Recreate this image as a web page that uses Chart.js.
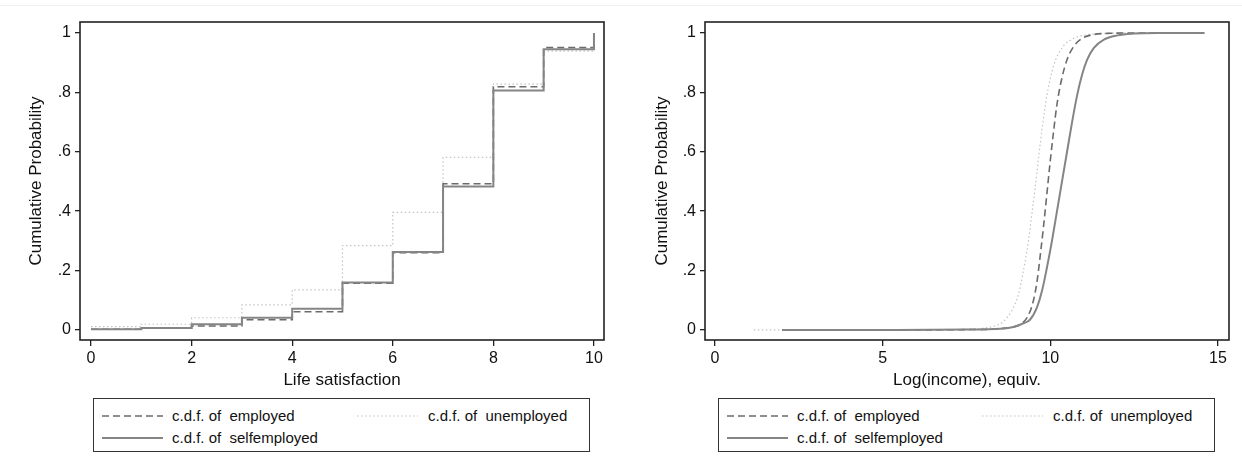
<!DOCTYPE html>
<html lang="en">
<head>
<meta charset="UTF-8">
<title>Cumulative distributions by employment status</title>
<script src="https://cdn.jsdelivr.net/npm/chart.js"></script>
<style>
    body {
        margin: 0;
        background: #fff;
        font-family: "Liberation Sans", Arial, sans-serif;
    }
    .page {
        position: relative;
        width: 1242px;
        height: 471px;
        overflow: hidden;
    }
    .topline {
        position: absolute;
        left: 0;
        top: 5px;
        width: 1242px;
        border-top: 1px solid #efefef;
    }
    .panel {
        position: absolute;
        top: 0;
        width: 621px;
        height: 395px;
    }
    .legend {
        position: absolute;
        top: 398px;
        width: 497px;
        height: 54px;
        border: 1px solid #333;
        box-sizing: border-box;
        font-size: 15px;
        color: #111;
    }
    .item {
        position: absolute;
        white-space: pre;
        line-height: 18px;
    }
    .sample {
        position: absolute;
    }
</style>
</head>
<body>
<div class="page">
    <div class="topline"></div>
    <canvas id="life" class="panel" width="621" height="395" style="left:0"></canvas>
    <canvas id="income" class="panel" width="621" height="395" style="left:621px"></canvas>
    <div id="legendLife" class="legend" style="left:93px"></div>
    <div id="legendIncome" class="legend" style="left:718px"></div>
</div>

<script>
    // Life satisfaction (0-10), step c.d.f.
    const lifeX = [0, 1, 2, 3, 4, 5, 6, 7, 8, 9, 10];
    const lifeEmployed     = [0.002, 0.006, 0.013, 0.034, 0.061, 0.157, 0.260, 0.492, 0.819, 0.951, 1];
    const lifeUnemployed   = [0.011, 0.019, 0.041, 0.084, 0.135, 0.284, 0.396, 0.581, 0.828, 0.939, 1];
    const lifeSelfemployed = [0.002, 0.006, 0.019, 0.041, 0.071, 0.160, 0.262, 0.483, 0.806, 0.945, 1];

    // Log(income), equiv. - smooth c.d.f.
    const incEmployedX = [2.0, 5.0, 7.5, 8.5, 8.9, 9.15, 9.35, 9.5, 9.6, 9.7, 9.8, 9.9, 10.0, 10.1, 10.2, 10.35, 10.5, 10.7, 10.95, 11.3, 11.8, 12.5, 14.6];
    const incEmployedY = [0, 0, 0.001, 0.004, 0.010, 0.022, 0.050, 0.100, 0.160, 0.250, 0.350, 0.460, 0.570, 0.670, 0.760, 0.850, 0.910, 0.955, 0.982, 0.995, 0.999, 1, 1];

    const incUnemployedX = [1.16, 3.0, 5.0, 7.0, 7.8, 8.3, 8.6, 8.85, 9.05, 9.2, 9.35, 9.45, 9.55, 9.65, 9.77, 9.9, 10.1, 10.35, 10.7, 11.1, 11.7, 12.5, 14.6];
    const incUnemployedY = [0, 0, 0, 0.001, 0.004, 0.012, 0.028, 0.065, 0.120, 0.200, 0.300, 0.390, 0.480, 0.580, 0.690, 0.790, 0.890, 0.950, 0.982, 0.994, 0.999, 1, 1];

    const incSelfemployedX = [2.0, 5.0, 7.5, 8.5, 8.9, 9.15, 9.4, 9.6, 9.75, 9.9, 10.05, 10.2, 10.35, 10.5, 10.65, 10.8, 10.95, 11.1, 11.3, 11.6, 12.0, 12.5, 13.2, 14.6];
    const incSelfemployedY = [0, 0, 0.001, 0.004, 0.010, 0.020, 0.035, 0.075, 0.130, 0.210, 0.300, 0.400, 0.500, 0.600, 0.700, 0.790, 0.860, 0.910, 0.950, 0.978, 0.992, 0.998, 1, 1];

    const yTicks = [0, 0.2, 0.4, 0.6, 0.8, 1];
    const yTickLabels = ['0', '.2', '.4', '.6', '.8', '1'];
    const lifeTicks = [0, 2, 4, 6, 8, 10];
    const incomeTicks = [0, 5, 10, 15];

    const seriesNames = ['employed', 'unemployed', 'selfemployed'];
    const styles = {
        employed:     {color: '#6b6b6b', width: 1.6, dash: [7, 4]},
        unemployed:   {color: '#c2c2c2', width: 1.2, dash: [1.5, 2.5]},
        selfemployed: {color: '#858585', width: 2, dash: []}
    };

    Chart.defaults.font.family = '"Liberation Sans", Arial, sans-serif';

    const toPoints = (xs, ys) => xs.map((x, i) => ({x: x, y: ys[i]}));

    // box round the plot region, Stata style
    const framePlugin = {
        id: 'frame',
        afterDraw(chart) {
            const a = chart.chartArea;
            const ctx = chart.ctx;
            ctx.save();
            ctx.strokeStyle = '#222';
            ctx.lineWidth = 1.6;
            ctx.strokeRect(a.left, a.top, a.right - a.left, a.bottom - a.top);
            ctx.restore();
        }
    };

    function makeDataset(name, points, extra) {
        const s = styles[name];
        return Object.assign({
            label: 'c.d.f. of  ' + name,
            data: points,
            borderColor: s.color,
            borderWidth: s.width,
            borderDash: s.dash,
            pointRadius: 0,
            fill: false
        }, extra);
    }

    function makeChart(id, datasets, cfg) {
        new Chart(document.getElementById(id), {
            type: 'line',
            data: {datasets: datasets},
            options: {
                responsive: false,
                animation: false,
                layout: {padding: {left: 0, top: 22, right: cfg.padRight, bottom: 0}},
                plugins: {legend: {display: false}, tooltip: {enabled: false}},
                scales: {
                    x: {
                        type: 'linear',
                        min: cfg.xMin,
                        max: cfg.xMax,
                        afterBuildTicks: s => { s.ticks = cfg.xTicks.map(v => ({value: v})); },
                        afterFit: s => { s.height = 55; },
                        grid: {drawOnChartArea: false, drawTicks: true, tickLength: 6, color: '#222', lineWidth: 1.3},
                        border: {display: false},
                        ticks: {font: {size: 16}, color: '#111', padding: 3, maxRotation: 0, autoSkip: false,
                                callback: v => String(v)},
                        title: {display: true, text: cfg.xTitle, font: {size: 17}, color: '#111',
                                padding: {top: 0, bottom: 4}}
                    },
                    y: {
                        min: -0.034,
                        max: 1.037,
                        afterBuildTicks: s => { s.ticks = yTicks.map(v => ({value: v})); },
                        afterFit: s => { s.width = cfg.yWidth; },
                        grid: {drawOnChartArea: false, drawTicks: true, tickLength: 5, color: '#222', lineWidth: 1.3},
                        border: {display: false},
                        ticks: {font: {size: 16}, color: '#111', padding: 4, autoSkip: false,
                                callback: v => yTickLabels[yTicks.indexOf(v)]},
                        title: {display: true, text: 'Cumulative Probability', font: {size: 17}, color: '#111',
                                padding: {top: cfg.yTitlePad, bottom: 0}}
                    }
                }
            },
            plugins: [framePlugin]
        });
    }

    // selfemployed first so it is drawn on top
    makeChart('life', [
        makeDataset('selfemployed', toPoints(lifeX, lifeSelfemployed), {stepped: true}),
        makeDataset('employed', toPoints(lifeX, lifeEmployed), {stepped: true}),
        makeDataset('unemployed', toPoints(lifeX, lifeUnemployed), {stepped: true})
    ], {xMin: -0.219, xMax: 10.2, xTicks: lifeTicks, xTitle: 'Life satisfaction',
        yWidth: 80, yTitlePad: 26, padRight: 17});

    makeChart('income', [
        makeDataset('selfemployed', toPoints(incSelfemployedX, incSelfemployedY), {cubicInterpolationMode: 'monotone'}),
        makeDataset('employed', toPoints(incEmployedX, incEmployedY), {cubicInterpolationMode: 'monotone'}),
        makeDataset('unemployed', toPoints(incUnemployedX, incUnemployedY), {cubicInterpolationMode: 'monotone'})
    ], {xMin: -0.298, xMax: 15.33, xTicks: incomeTicks, xTitle: 'Log(income), equiv.',
        yWidth: 84, yTitlePad: 31, padRight: 13});

    // legend boxes: two columns, selfemployed on second row
    const legendSlots = {
        employed:     {sample: 8, label: 78, top: 8},
        unemployed:   {sample: 263, label: 334, top: 8},
        selfemployed: {sample: 8, label: 78, top: 30}
    };

    function buildLegend(id) {
        const box = document.getElementById(id);
        seriesNames.forEach(name => {
            const slot = legendSlots[name];
            const s = styles[name];
            const svgNS = 'http://www.w3.org/2000/svg';
            const svg = document.createElementNS(svgNS, 'svg');
            svg.setAttribute('class', 'sample');
            svg.setAttribute('width', '61');
            svg.setAttribute('height', '6');
            svg.style.left = slot.sample + 'px';
            svg.style.top = (slot.top + 6) + 'px';
            const line = document.createElementNS(svgNS, 'line');
            line.setAttribute('x1', '0');
            line.setAttribute('x2', '61');
            line.setAttribute('y1', '3');
            line.setAttribute('y2', '3');
            line.setAttribute('stroke', s.color);
            line.setAttribute('stroke-width', s.width);
            if (s.dash.length) line.setAttribute('stroke-dasharray', s.dash.join(' '));
            svg.appendChild(line);
            box.appendChild(svg);

            const label = document.createElement('div');
            label.className = 'item';
            label.style.left = slot.label + 'px';
            label.style.top = slot.top + 'px';
            label.textContent = 'c.d.f. of  ' + name;
            box.appendChild(label);
        });
    }

    buildLegend('legendLife');
    buildLegend('legendIncome');
</script>
</body>
</html>
